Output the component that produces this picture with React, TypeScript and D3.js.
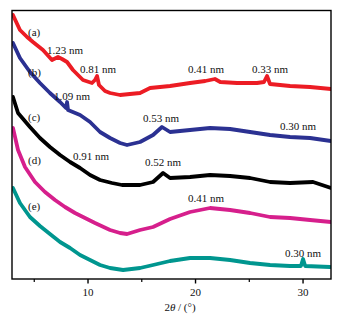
import React from 'react';
import * as d3 from 'd3';

// 2θ (°) vs intensity (a.u., offset stacked)
const seriesA: [number, number][] = [
  [3.02, 264], [3.67, 249], [4.33, 242], [4.88, 237], [5.81, 229], [6.65, 219], [7.21, 222], [7.58, 220],
  [8.05, 217], [8.6, 209], [9.53, 199], [10.37, 196], [10.65, 199], [10.84, 203], [11.02, 194], [11.58, 188],
  [12.05, 186], [12.98, 184], [13.9, 185], [14.84, 186], [15.77, 191], [16.7, 192], [17.63, 193], [19.49, 196],
  [20.9, 198], [21.8, 200], [22.3, 197], [23.86, 196], [25.72, 196], [26.37, 197], [26.65, 203], [26.93, 195],
  [28.79, 193], [30.65, 192], [32.6, 190],
];
const seriesB: [number, number][] = [
  [3.02, 236], [3.67, 221], [4.6, 207], [5.53, 196], [6.46, 186], [7.4, 177], [7.95, 171], [8.05, 177],
  [8.14, 169], [9.26, 164], [10.19, 157], [11.12, 147], [12.05, 141], [12.98, 136], [13.63, 134], [14.84, 137],
  [16.05, 144], [16.88, 152], [17.63, 147], [19.49, 149], [21.35, 151], [23.21, 150], [25.07, 147], [26.93, 144],
  [28.79, 142], [30.65, 141], [32.6, 138],
];
const seriesC: [number, number][] = [
  [3.02, 182], [3.49, 166], [4.6, 152], [5.53, 141], [6.46, 132], [7.4, 124], [8.33, 117], [9.26, 111],
  [10.19, 104], [11.12, 99], [12.23, 96], [13.16, 94], [14.84, 94], [16.05, 97], [16.98, 106], [17.63, 101],
  [19.49, 102], [21.35, 104], [23.21, 103], [25.07, 101], [26.93, 97], [28.79, 96], [30.93, 97], [32.6, 91],
];
const seriesD: [number, number][] = [
  [3.02, 151], [3.49, 129], [4.14, 112], [5.07, 97], [6.0, 87], [6.93, 79], [7.86, 72], [8.79, 66],
  [9.72, 61], [10.65, 56], [12.05, 49], [12.98, 46], [13.63, 45], [14.84, 49], [16.05, 52], [17.63, 60],
  [19.49, 67], [21.35, 71], [23.21, 69], [25.07, 66], [26.93, 62], [28.79, 61], [30.65, 59], [32.6, 57],
];
const seriesE: [number, number][] = [
  [3.02, 91], [3.67, 76], [4.6, 62], [5.53, 53], [6.46, 45], [7.4, 37], [8.33, 31], [9.26, 24],
  [10.19, 19], [11.12, 14], [12.05, 11], [13.26, 9], [14.84, 11], [16.05, 14], [17.63, 18], [19.49, 21],
  [21.35, 21], [23.21, 19], [25.07, 16], [26.93, 14], [28.79, 13], [29.8, 13], [30.0, 20], [30.2, 13],
  [32.5, 12],
];

const seriesColors = ['#ec1c24', '#2b3192', '#000000', '#d61f8c', '#00968f'];

const majorTicks = [10, 20, 30];
const minorTicks = [5, 15, 25];

// annotations anchored in data space (2θ, intensity)
const curveTags: [string, number, number][] = [
  ['(a)', 4.42, 243], ['(b)', 4.42, 203], ['(c)', 4.42, 158], ['(d)', 4.42, 115], ['(e)', 4.42, 69],
];
const peakTags: [string, number, number][] = [
  ['1.23 nm', 6.19, 225], ['0.81 nm', 9.26, 206], ['0.41 nm', 19.3, 206], ['0.33 nm', 25.26, 206],
  ['1.09 nm', 6.84, 179], ['0.53 nm', 15.12, 157], ['0.30 nm', 27.86, 149],
  ['0.91 nm', 8.6, 119], ['0.52 nm', 15.3, 113],
  ['0.41 nm', 19.3, 77], ['0.30 nm', 28.33, 22],
];

const W = 339, H = 317;
const L = 12, R = 331, T = 10.5, B = 279;
const FONT = "'Liberation Serif', 'Times New Roman', Times, serif";

export default function App() {
  const x = d3.scaleLinear().domain([2.93, 32.6]).range([L, R]);
  const y = d3.scaleLinear().domain([0, 268.5]).range([B, T]);
  const line = d3.line<[number, number]>().x(d => x(d[0])).y(d => y(d[1]));
  const all = [seriesA, seriesB, seriesC, seriesD, seriesE];
  const ts = { fontFamily: FONT, fontSize: 11, fill: '#111' } as React.CSSProperties;
  return (
    <svg width={W} height={H} style={{ position: 'absolute', left: 0, top: 0, background: '#fff' }}>
      <defs>
        <clipPath id="plot"><rect x={L} y={T} width={R - L} height={B - T} /></clipPath>
      </defs>
      <g clipPath="url(#plot)">
        {all.map((s, i) => (
          <path key={i} d={line(s) || ''} fill="none" stroke={seriesColors[i]} strokeWidth={3.8}
            strokeLinejoin="round" strokeLinecap="round" />
        ))}
      </g>
      <rect x={L} y={T} width={R - L} height={B - T} fill="none" stroke="#000" strokeWidth={1.4} />
      {majorTicks.map(t => (
        <g key={t}>
          <line x1={x(t)} x2={x(t)} y1={B} y2={B + 4.5} stroke="#000" strokeWidth={1.4} />
          <text x={x(t)} y={296} textAnchor="middle" style={ts}>{t}</text>
        </g>
      ))}
      {minorTicks.map(t => (
        <line key={t} x1={x(t)} x2={x(t)} y1={B} y2={B + 3} stroke="#000" strokeWidth={1.2} />
      ))}
      <text x={180} y={311} textAnchor="middle" style={ts}>
        2<tspan style={{ fontStyle: 'italic' }}>θ</tspan> / (°)
      </text>
      {curveTags.map(([t, a, b], i) => (
        <text key={'c' + i} x={x(a)} y={y(b)} style={ts}>{t}</text>
      ))}
      {peakTags.map(([t, a, b], i) => (
        <text key={'p' + i} x={x(a)} y={y(b)} style={ts}>{t}</text>
      ))}
    </svg>
  );
}
